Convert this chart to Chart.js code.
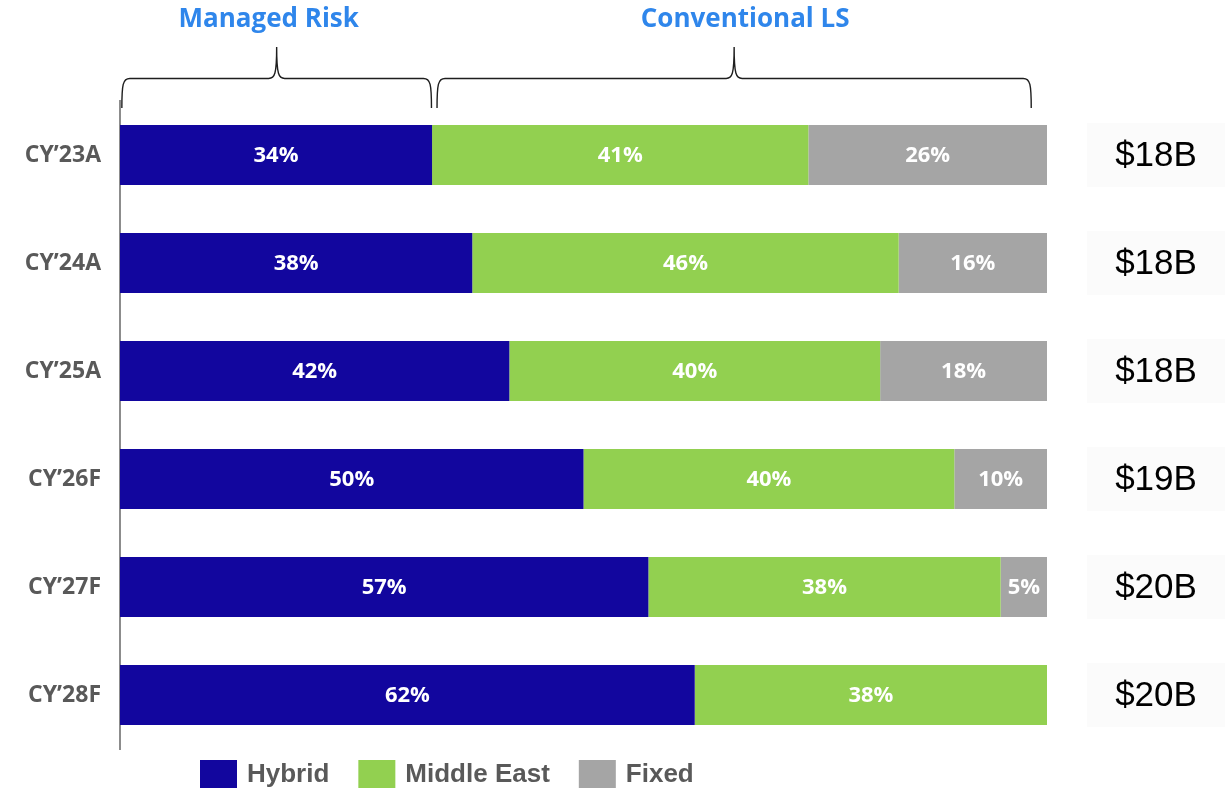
<!DOCTYPE html>
<html>
<head>
<meta charset="utf-8">
<title>Revenue mix</title>
<script src="https://cdn.jsdelivr.net/npm/chart.js@4.4.1/dist/chart.umd.min.js"></script>
<style>
    body { margin: 0; background: #fff; }
    #wrap { width: 1230px; height: 790px; }
</style>
</head>
<body>
<div id="wrap"><canvas id="mix-chart" width="1230" height="790"></canvas></div>
<script>
// values (shares in %, totals in $B)
const years = ['CY\u201923A', 'CY\u201924A', 'CY\u201925A', 'CY\u201926F', 'CY\u201927F', 'CY\u201928F'];
const hybrid = [34, 38, 42, 50, 57, 62];
const middleEast = [41, 46, 40, 40, 38, 38];
const fixed = [26, 16, 18, 10, 5, 0];
const totals = [18, 18, 18, 19, 20, 20];
const seriesNames = ['Hybrid', 'Middle East', 'Fixed'];
const seriesColors = ['#12069e', '#92d050', '#a5a5a5'];

// brackets above the bars (in % of the axis)
const groupNames = ['Managed Risk', 'Conventional LS'];
const groupFrom = [0.2, 34.2];
const groupTo = [33.6, 98.3];

const raw = [hybrid, middleEast, fixed];
const rowSums = years.map((_, i) => hybrid[i] + middleEast[i] + fixed[i]);

const datasets = raw.map((vals, k) => ({
    label: seriesNames[k],
    data: vals.map((v, i) => v / rowSums[i] * 100),
    shown: vals,
    backgroundColor: seriesColors[k],
    borderWidth: 0,
    barPercentage: 1,
    categoryPercentage: 0.556,
}));

const labelFont = '"Open Sans", "DejaVu Sans", sans-serif';

// percentage labels inside the bars
const barLabels = {
    id: 'barLabels',
    afterDatasetsDraw(chart) {
        const ctx = chart.ctx;
        ctx.save();
        ctx.font = 'bold 22px ' + labelFont;
        ctx.fillStyle = '#ffffff';
        ctx.textAlign = 'center';
        ctx.textBaseline = 'middle';
        chart.data.datasets.forEach((ds, k) => {
            chart.getDatasetMeta(k).data.forEach((bar, i) => {
                const v = ds.shown[i];
                if (!v) return;
                const p = bar.getProps(['x', 'y', 'base'], true);
                ctx.fillText(v + '%', (p.x + p.base) / 2, p.y + 1);
            });
        });
        ctx.restore();
    }
};

function brace(ctx, x1, x2, tipY, lineY, peakY) {
    const xm = (x1 + x2) / 2;
    ctx.beginPath();
    ctx.moveTo(x1, tipY);
    ctx.bezierCurveTo(x1, lineY + 6, x1 + 1, lineY, x1 + 8, lineY);
    ctx.lineTo(xm - 8, lineY);
    ctx.bezierCurveTo(xm - 2, lineY, xm, lineY - 4, xm, peakY);
    ctx.bezierCurveTo(xm, lineY - 4, xm + 2, lineY, xm + 8, lineY);
    ctx.lineTo(x2 - 8, lineY);
    ctx.bezierCurveTo(x2 - 1, lineY, x2, lineY + 6, x2, tipY);
    ctx.stroke();
}

// brackets, group titles, totals and legend
const titleNudge = [-8, 11];
const decorations = {
    id: 'decorations',
    afterDraw(chart) {
        const ctx = chart.ctx;
        const xs = chart.scales.x;
        const ys = chart.scales.y;
        ctx.save();

        ctx.strokeStyle = '#1e1e1e';
        ctx.lineWidth = 1.4;
        groupNames.forEach((name, g) => {
            const a = xs.getPixelForValue(groupFrom[g]);
            const b = xs.getPixelForValue(groupTo[g]);
            brace(ctx, a, b, 108, 78.5, 47);
            ctx.font = 'bold 26px ' + labelFont;
            ctx.fillStyle = '#2f86eb';
            ctx.textAlign = 'center';
            ctx.textBaseline = 'middle';
            ctx.fillText(name, (a + b) / 2 + titleNudge[g], 20);
        });

        // totals boxes on the right
        ctx.font = '35px "Liberation Sans", Arial, sans-serif';
        ctx.textAlign = 'center';
        ctx.textBaseline = 'middle';
        totals.forEach((t, i) => {
            const y = ys.getPixelForValue(i);
            const cx = 1156;
            ctx.fillStyle = '#fbfbfb';
            ctx.fillRect(cx - 69, y - 32, 138, 64);
            ctx.fillStyle = '#000000';
            ctx.fillText('$' + t + 'B', cx, y + 1);
        });

        // legend along the bottom
        ctx.font = 'bold 26px "Liberation Sans", Arial, sans-serif';
        ctx.textAlign = 'left';
        let x = 200;
        seriesNames.forEach((name, k) => {
            ctx.fillStyle = seriesColors[k];
            ctx.fillRect(x, 760, 37, 28);
            ctx.fillStyle = '#595959';
            ctx.fillText(name, x + 47, 775);
            x += 47 + ctx.measureText(name).width + 29;
        });
        ctx.restore();
    }
};

new Chart(document.getElementById('mix-chart').getContext('2d'), {
    type: 'bar',
    data: { labels: years, datasets: datasets },
    options: {
        indexAxis: 'y',
        responsive: false,
        animation: false,
        layout: { padding: { top: 101, bottom: 41, right: 183, left: 0 } },
        plugins: {
            legend: { display: false },
            tooltip: { enabled: false },
        },
        scales: {
            x: {
                stacked: true,
                min: 0,
                max: 100,
                display: false,
            },
            y: {
                stacked: true,
                grid: { display: false, drawTicks: false },
                border: { display: true, color: '#8c8c8c', width: 2 },
                ticks: {
                    padding: 19,
                    color: '#595959',
                    font: { family: labelFont, size: 23, weight: 'bold' },
                },
                afterFit(scale) { scale.width = 120; },
            },
        },
    },
    plugins: [barLabels, decorations],
});
</script>
</body>
</html>
